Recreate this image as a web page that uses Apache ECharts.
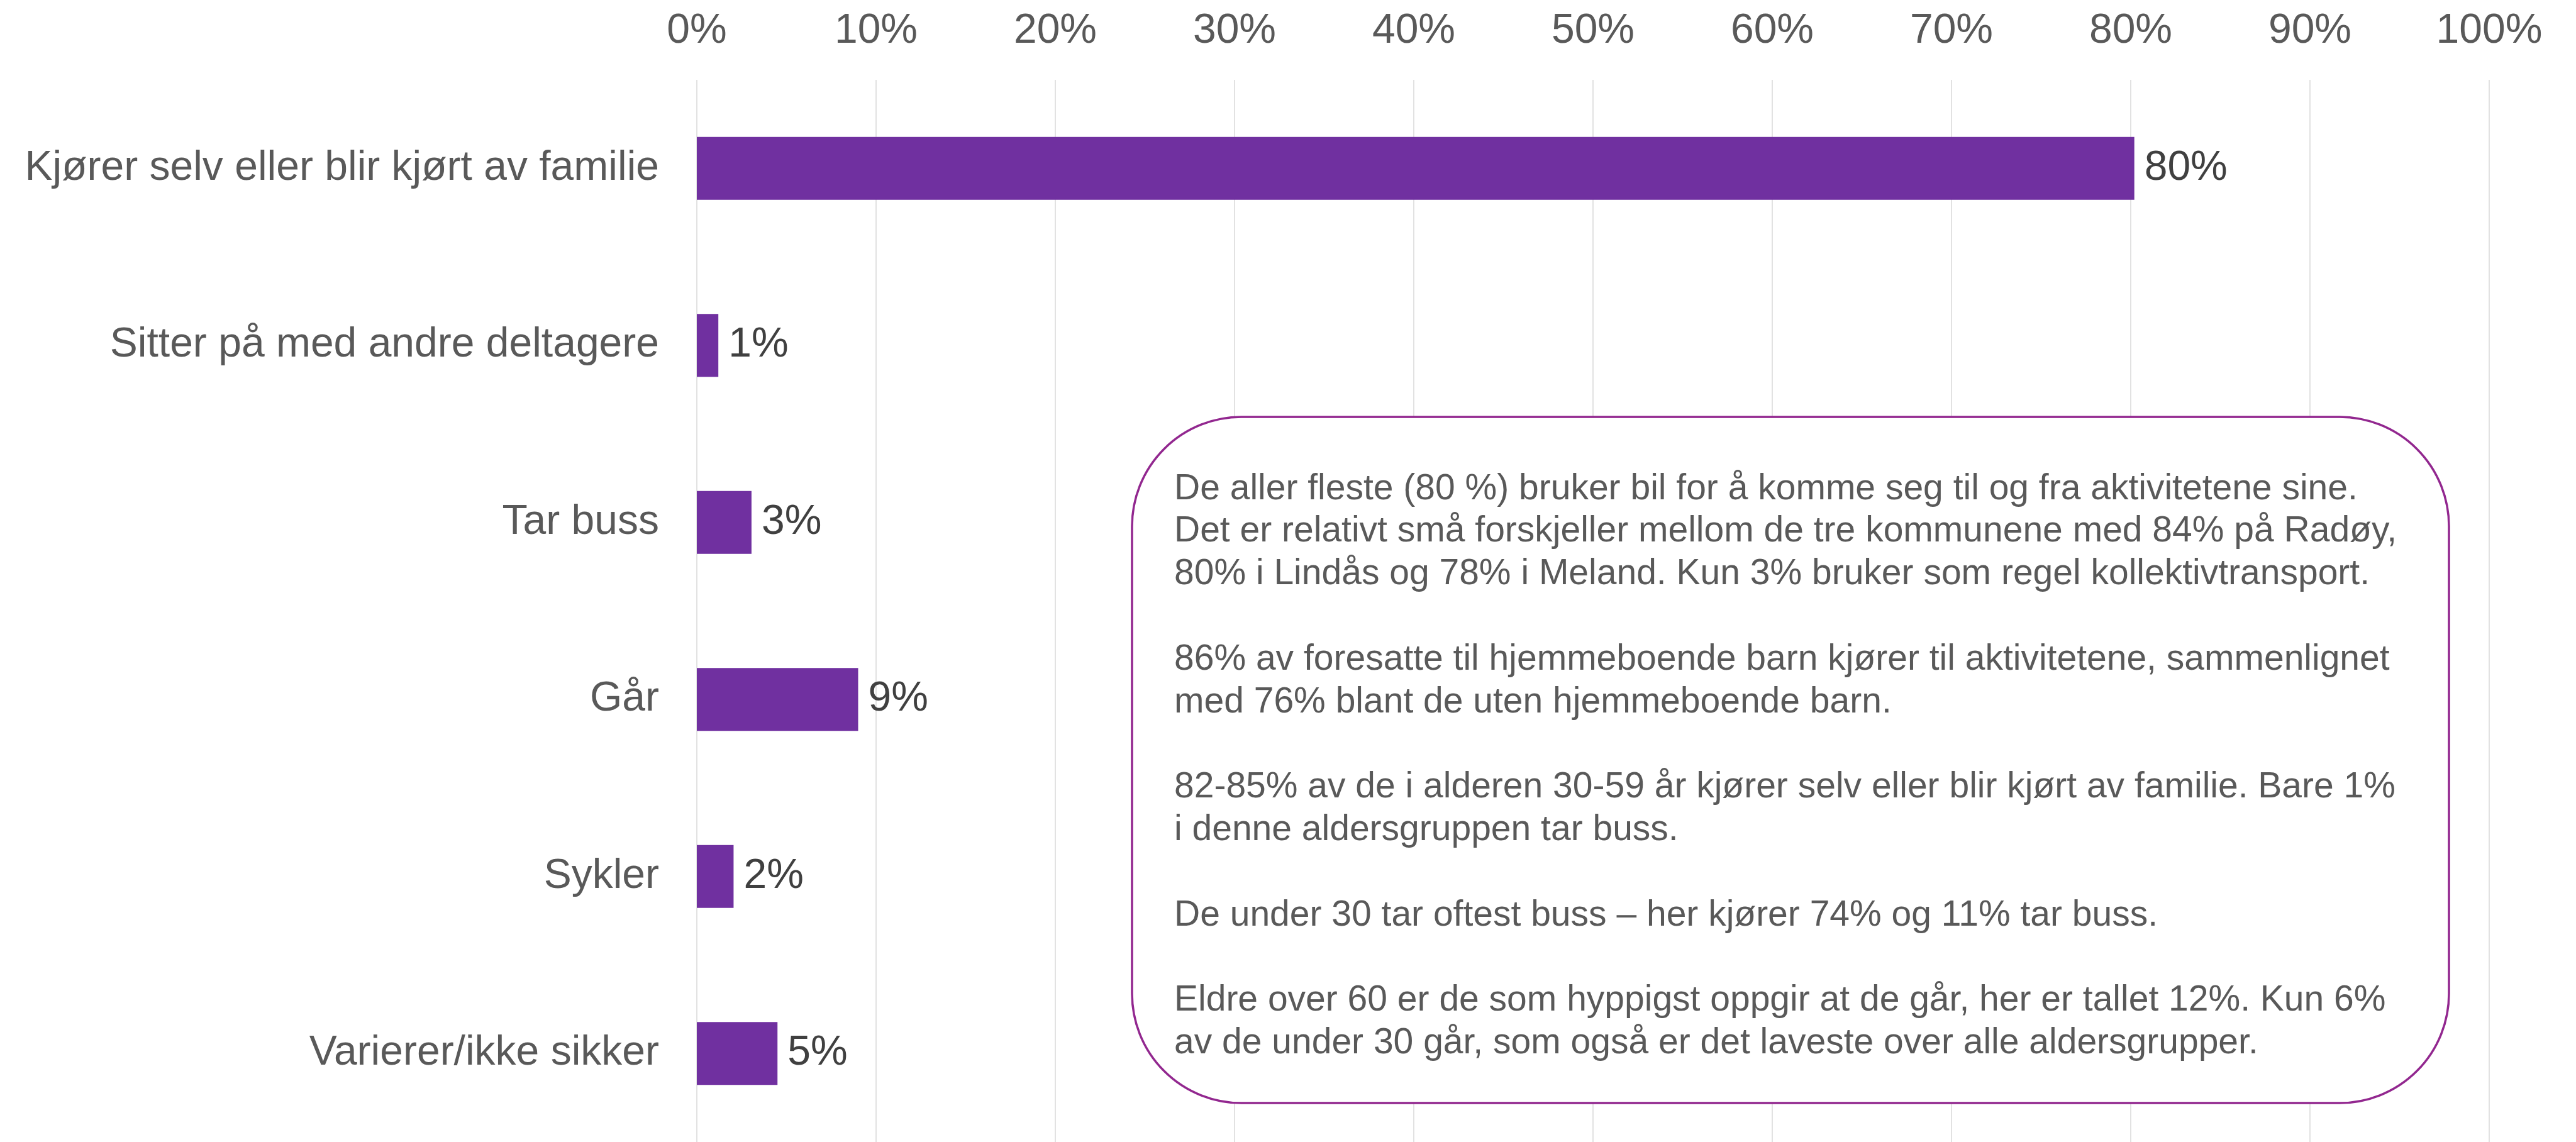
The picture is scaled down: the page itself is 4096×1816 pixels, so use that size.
<!DOCTYPE html>
<html>
<head>
<meta charset="utf-8">
<script src="https://cdn.jsdelivr.net/npm/echarts@6/dist/echarts.min.js"></script>
<style>
html,body{margin:0;padding:0;background:#fff;}
#chart{width:4096px;height:1816px;}
</style>
</head>
<body>
<div id="chart"></div>
<script>
const categories = [
  'Kjører selv eller blir kjørt av familie',
  'Sitter på med andre deltagere',
  'Tar buss',
  'Går',
  'Sykler',
  'Varierer/ikke sikker'
];
const values = [80.2, 1.2, 3.05, 9.0, 2.05, 4.5];
const axisTicks = [0, 10, 20, 30, 40, 50, 60, 70, 80, 90, 100];
const noteLines = [
  'De aller fleste (80 %) bruker bil for å komme seg til og fra aktivitetene sine.',
  'Det er relativt små forskjeller mellom de tre kommunene med 84% på Radøy,',
  '80% i Lindås og 78% i Meland. Kun 3% bruker som regel kollektivtransport.',
  '',
  '86% av foresatte til hjemmeboende barn kjører til aktivitetene, sammenlignet',
  'med 76% blant de uten hjemmeboende barn.',
  '',
  '82-85% av de i alderen 30-59 år kjører selv eller blir kjørt av familie. Bare 1%',
  'i denne aldersgruppen tar buss.',
  '',
  'De under 30 tar oftest buss – her kjører 74% og 11% tar buss.',
  '',
  'Eldre over 60 er de som hyppigst oppgir at de går, her er tallet 12%. Kun 6%',
  'av de under 30 går, som også er det laveste over alle aldersgrupper.'
];

const FONT = '"Liberation Sans", Arial, sans-serif';
const chart = echarts.init(document.getElementById('chart'));
chart.setOption({
  animation: false,
  backgroundColor: '#ffffff',
  grid: { left: 1108, top: 127, width: 2850, height: 1693, containLabel: false },
  xAxis: {
    type: 'value',
    position: 'top',
    min: axisTicks[0],
    max: axisTicks[axisTicks.length - 1],
    interval: axisTicks[1] - axisTicks[0],
    axisLine: { show: false },
    axisTick: { show: false },
    axisLabel: {
      fontFamily: FONT, fontSize: 66, color: '#595959', margin: 44,
      formatter: v => v + '%'
    },
    splitLine: { show: true, lineStyle: { color: '#d9d9d9', width: 1.5 } }
  },
  yAxis: {
    type: 'category',
    data: categories,
    inverse: true,
    axisLine: { show: false },
    axisTick: { show: false },
    axisLabel: { fontFamily: FONT, fontSize: 66, color: '#595959', margin: 60 }
  },
  series: [{
    type: 'bar',
    data: values,
    barWidth: 100,
    itemStyle: { color: '#7030A0' },
    label: {
      show: true, position: 'right', distance: 16,
      fontFamily: FONT, fontSize: 66, color: '#404040',
      formatter: p => Math.round(p.value) + '%'
    }
  }],
  graphic: [
    {
      type: 'rect', z: 10,
      shape: { x: 1800, y: 663, width: 2094, height: 1091, r: 174 },
      style: { fill: '#ffffff', stroke: '#92278F', lineWidth: 3.5 }
    },
    {
      type: 'text', z: 11,
      x: 1867, y: 744,
      style: {
        text: noteLines.join('\n'),
        font: '57px ' + FONT,
        lineHeight: 67.8,
        fill: '#595959'
      }
    }
  ]
});
</script>
</body>
</html>
